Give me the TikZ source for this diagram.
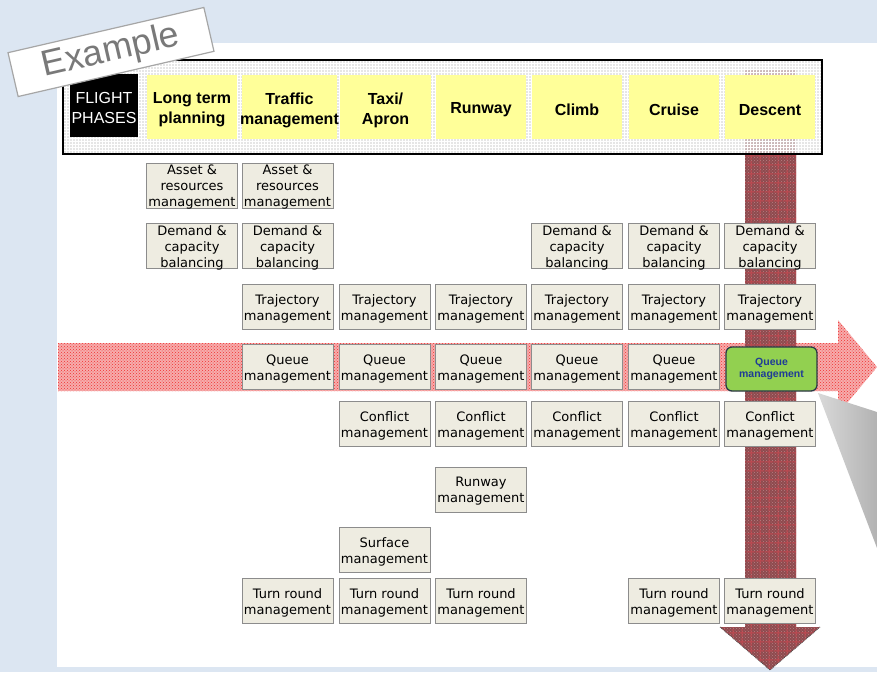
\documentclass[tikz,border=0pt]{standalone}
\usepackage{fontspec}
\setmainfont{Liberation Sans}
\newfontfamily\boxfont{DejaVu Sans}
\usetikzlibrary{patterns,patterns.meta}

\definecolor{bgblue}{HTML}{DCE6F2}
\definecolor{phasey}{HTML}{FFFF99}
\definecolor{taskfill}{HTML}{EEECE1}
\definecolor{taskline}{HTML}{8C8C8C}
\definecolor{hlgreen}{HTML}{92D050}
\definecolor{hlblue}{HTML}{1F3C96}
\definecolor{hlline}{HTML}{2A3A46}
\definecolor{flowpink}{HTML}{F6ACAC}
\definecolor{flowred}{HTML}{F03030}
\definecolor{descred}{HTML}{8E4A4E}
\definecolor{descspeck}{HTML}{B88084}
\definecolor{descline}{HTML}{C04850}
\definecolor{framegrey}{HTML}{DEDEDE}

% open square grid used on the descent arrow
\tikzdeclarepattern{name=descgrid, type=uncolored,
  bounding box={(0pt,0pt) and (9pt,9pt)}, tile size={(9pt,9pt)},
  code={\pgfsetlinewidth{1pt}
        \pgfpathmoveto{\pgfpoint{0pt}{4.5pt}}\pgfpathlineto{\pgfpoint{9pt}{4.5pt}}
        \pgfpathmoveto{\pgfpoint{4.5pt}{0pt}}\pgfpathlineto{\pgfpoint{4.5pt}{9pt}}
        \pgfusepath{stroke}}}

\tikzset{
  task/.style={draw=taskline, line width=0.9pt, fill=taskfill,
    minimum width=91pt, minimum height=45pt, inner sep=0pt},
  tasktext/.style={inner sep=0pt, align=center,
    font=\boxfont\fontsize{13}{16}\selectfont},
  phase/.style={fill=phasey, minimum height=64pt, inner sep=0pt},
  phasetext/.style={inner sep=0pt, align=center,
    font=\bfseries\fontsize{16}{20}\selectfont},
}

% a grey task box with its label set slightly low
\newcommand\taskbox[4]{%
  \node[task] (#1) at (#2,#3) {};
  \node[tasktext] (#1-t) at (#2,#3+2) {#4};}
% a yellow flight phase box in the header band
\newcommand\phasebox[4]{%
  \node[phase, minimum width=#3pt] (#1) at (#2,107) {};
  \node[phasetext] (#1-t) at (#2,110) {#4};}

\begin{document}
\begin{tikzpicture}[x=1pt,y=-1pt]
\useasboundingbox (0,0) rectangle (877,672);

% page background and white panel
\fill[bgblue] (0,0) rectangle (877,672);
\fill[white] (57,43) rectangle (877,667);

% horizontal flow arrow
\def\flowpath{(58,343) -- (838,343) -- (838,320) -- (877,367) -- (838,414) -- (838,391) -- (58,391) -- cycle}
\fill[flowpink] \flowpath;
\fill[pattern=crosshatch dots, pattern color=flowred] \flowpath;

% vertical descent arrow
\def\descpath{(745,70) -- (796,70) -- (796,627) -- (820,627) -- (770,670) -- (720,627) -- (745,627) -- cycle}
\fill[descred] \descpath;
\fill[pattern=crosshatch dots, pattern color=descspeck] \descpath;
\fill[pattern=descgrid, pattern color=descline] \descpath;
\draw[gray!60!black, densely dotted, line width=0.8pt] (720,627) -- (770,670) -- (820,627);

% grey callout wedge
\shade[left color=gray!30, right color=gray!60] (818,393) -- (877,412) -- (877,548) -- cycle;

% header frame with flight phases
\fill[framegrey, fill opacity=0.75] (63,60) rectangle (822,154);
\fill[pattern=grid, pattern color=white, fill opacity=0.6] (63,60) rectangle (822,154);
\draw[black, line width=1.3pt] (63,60) rectangle (822,154);

\node[fill=black, minimum width=68pt, minimum height=63pt, inner sep=0pt] (fp) at (104,105.5) {};
\node[text=white, inner sep=0pt, align=center, font=\fontsize{16}{19.5}\selectfont]
  (fp-t) at (104,108) {FLIGHT\\PHASES};
\phasebox{ph1}{192}{90}{Long term\\planning}
\phasebox{ph2}{289.5}{95}{Traffic\\management}
\phasebox{ph3}{385.5}{91}{Taxi/\\Apron}
\phasebox{ph4}{481}{90}{Runway}
\phasebox{ph5}{577}{90}{Climb}
\phasebox{ph6}{674}{90}{Cruise}
\phasebox{ph7}{770}{90}{Descent}

% asset & resources management
\taskbox{a1}{192}{185.5}{Asset \&\\resources\\management}
\taskbox{a2}{287.5}{185.5}{Asset \&\\resources\\management}

% demand & capacity balancing
\taskbox{d1}{192}{245.5}{Demand \&\\capacity\\balancing}
\taskbox{d2}{287.5}{245.5}{Demand \&\\capacity\\balancing}
\taskbox{d5}{577}{245.5}{Demand \&\\capacity\\balancing}
\taskbox{d6}{674}{245.5}{Demand \&\\capacity\\balancing}
\taskbox{d7}{770}{245.5}{Demand \&\\capacity\\balancing}

% trajectory management
\taskbox{t2}{287.5}{306.5}{Trajectory\\management}
\taskbox{t3}{384.5}{306.5}{Trajectory\\management}
\taskbox{t4}{481}{306.5}{Trajectory\\management}
\taskbox{t5}{577}{306.5}{Trajectory\\management}
\taskbox{t6}{674}{306.5}{Trajectory\\management}
\taskbox{t7}{770}{306.5}{Trajectory\\management}

% queue management
\taskbox{q2}{287.5}{367}{Queue\\management}
\taskbox{q3}{384.5}{367}{Queue\\management}
\taskbox{q4}{481}{367}{Queue\\management}
\taskbox{q5}{577}{367}{Queue\\management}
\taskbox{q6}{674}{367}{Queue\\management}
\node[draw=hlline, line width=1.3pt, fill=hlgreen, rounded corners=6pt,
      minimum width=91pt, minimum height=44pt, inner sep=0pt, align=center,
      text=hlblue, font=\bfseries\fontsize{10.5}{12.5}\selectfont] (q7) at (771.5,369) {Queue\\management};

% conflict management
\taskbox{c3}{384.5}{423.5}{Conflict\\management}
\taskbox{c4}{481}{423.5}{Conflict\\management}
\taskbox{c5}{577}{423.5}{Conflict\\management}
\taskbox{c6}{674}{423.5}{Conflict\\management}
\taskbox{c7}{770}{423.5}{Conflict\\management}

% runway and surface management
\taskbox{r4}{481}{489.5}{Runway\\management}
\taskbox{s3}{384.5}{549.5}{Surface\\management}

% turn round management
\taskbox{u2}{287.5}{600.5}{Turn round\\management}
\taskbox{u3}{384.5}{600.5}{Turn round\\management}
\taskbox{u4}{481}{600.5}{Turn round\\management}
\taskbox{u6}{674}{600.5}{Turn round\\management}
\taskbox{u7}{770}{600.5}{Turn round\\management}

% example tag
\node[draw=gray!70, line width=1.2pt, fill=white, rotate=13, minimum width=201pt,
      minimum height=45pt, inner sep=0pt, text=gray!95!black,
      font=\fontsize{36}{40}\selectfont] (tag) at (111,52) {Example};

\end{tikzpicture}
\end{document}
